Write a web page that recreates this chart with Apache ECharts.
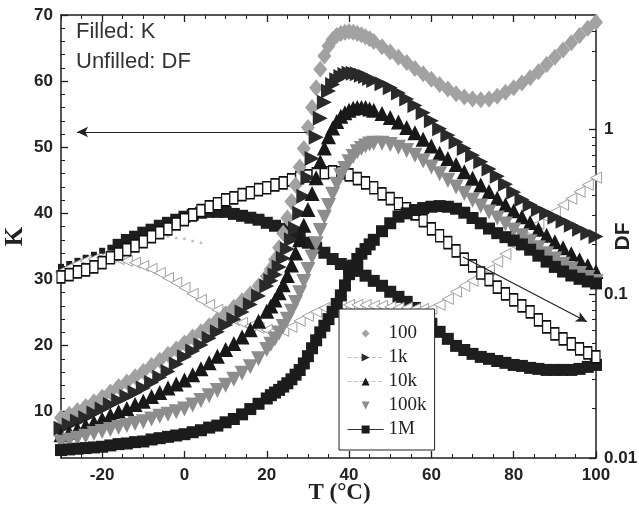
<!DOCTYPE html>
<html><head><meta charset="utf-8">
<script src="https://cdn.jsdelivr.net/npm/echarts@6/dist/echarts.min.js"></script>
<style>html,body{margin:0;padding:0;background:#fff}#c{width:639px;height:514px}</style>
</head><body><div id="c"></div>
<script>
// ---------- data ----------
const tempsK = [-30,-28,-26,-24,-22,-20,-18,-16,-14,-12,-10,-8,-6,-4,-2,0,2,4,6,8,10,12,14,16,18,20,
  21,22,23,24,25,26,27,28,29,30,31,32,33,34,35,36,37,38,39,40,41,42,43,44,45,46,
  48,50,52,54,56,58,60,62,64,66,68,70,72,74,76,78,80,82,84,86,88,90,92,94,96,98,100];
const k100 = [9.1,9.6,10.2,10.8,11.5,12.2,13.0,13.8,14.5,15.3,16.1,17.0,17.8,18.7,19.5,20.4,21.3,22.1,23.0,23.9,24.8,25.8,26.8,27.8,29.0,30.5,
  31.6,33.0,34.8,37.0,39.3,41.8,44.3,47.0,49.8,53.0,56.0,59.0,61.8,63.8,65.3,66.3,66.9,67.2,67.4,67.5,67.4,67.2,67.0,66.7,66.4,66.0,
  65.2,64.4,63.6,62.8,61.9,61.1,60.3,59.5,58.8,58.1,57.6,57.3,57.2,57.3,57.7,58.3,59.0,59.7,60.5,61.4,62.5,63.6,64.7,65.8,66.9,68.0,68.9];
const k1k = [7.5,8.0,8.6,9.1,9.8,10.4,11.1,11.7,12.3,12.9,13.6,14.4,15.2,16.1,17.2,18.3,19.2,20.1,21.1,22.1,23.1,24.0,25.1,26.2,27.5,29.0,
  29.8,30.7,31.9,33.2,34.6,36.0,37.7,40.0,42.6,45.4,48.3,51.5,54.4,56.8,58.5,59.5,60.2,60.7,61.0,61.2,61.2,61.1,60.9,60.7,60.4,60.1,
  59.6,59.0,58.2,57.3,56.3,55.2,54.0,52.8,51.8,50.8,49.8,48.8,47.8,46.7,45.6,44.4,43.2,42.1,41.3,40.6,40.0,39.4,38.8,38.2,37.6,37.0,36.5];
const k10k = [6.5,6.9,7.4,7.9,8.4,8.9,9.5,10.0,10.5,11.1,11.6,12.3,12.9,13.6,14.2,14.8,15.6,16.5,17.4,18.4,19.4,20.3,21.3,22.4,23.7,25.2,
  26.0,26.9,28.0,29.2,30.6,32.2,34.0,36.0,38.2,40.6,43.0,45.4,47.8,49.9,51.6,52.9,53.9,54.7,55.2,55.6,55.9,56.0,56.0,56.0,55.8,55.6,
  55.1,54.5,53.8,53.0,52.2,51.2,50.2,49.1,48.3,47.4,46.3,45.3,44.3,43.3,42.3,41.3,40.4,39.5,38.6,37.6,36.7,35.7,34.8,33.9,33.0,32.1,31.2];
const k100k = [5.4,5.7,6.0,6.3,6.7,7.0,7.3,7.6,7.9,8.2,8.5,8.9,9.3,9.6,10.0,10.4,11.0,11.7,12.4,13.2,14.0,14.9,15.8,16.8,18.0,19.4,
  20.2,21.0,21.9,22.9,24.0,25.2,26.5,28.0,29.7,31.5,33.4,35.4,37.4,39.4,41.2,42.9,44.4,45.7,46.8,47.8,48.6,49.3,49.8,50.2,50.5,50.6,
  50.6,50.4,50.0,49.5,48.8,47.9,47.0,46.0,45.0,44.0,43.0,42.0,41.1,40.2,39.3,38.4,37.5,36.6,35.7,34.8,33.9,33.1,32.3,31.6,30.9,30.3,29.7];
const k1M = [4.2,4.3,4.4,4.5,4.6,4.7,4.9,5.1,5.2,5.4,5.5,5.8,6.0,6.2,6.4,6.6,6.9,7.2,7.6,7.9,8.4,8.9,9.6,10.4,11.2,12.0,
  12.5,12.9,13.3,13.8,14.3,14.9,15.6,16.3,17.3,18.4,19.6,20.8,22.0,23.0,24.0,25.1,26.3,27.6,29.1,30.8,32.1,33.1,33.9,34.6,35.3,36.0,
  37.3,38.5,39.5,40.0,40.5,40.8,41.0,41.1,41.0,40.7,40.1,39.3,38.5,37.7,37.0,36.4,35.9,35.3,34.5,33.6,32.7,31.9,31.2,30.6,30.1,29.7,29.4];

const tempsDF = [-30,-28,-26,-24,-22,-20,-18,-16,-14,-12,-10,-8,-6,-4,-2,0,2,4,6,8,10,12,14,16,18,20,
  22,24,26,28,30,32,34,36,38,40,42,44,46,48,50,52,54,56,58,60,62,64,66,68,70,72,74,76,78,80,82,84,86,88,90,92,94,96,98,100];
const df1M = [0.127,0.131,0.136,0.140,0.146,0.155,0.166,0.175,0.186,0.196,0.208,0.223,0.236,0.249,0.267,0.283,0.303,0.321,0.339,0.354,0.374,0.385,0.402,0.413,0.431,0.443,
  0.462,0.475,0.495,0.510,0.524,0.539,0.547,0.554,0.547,0.531,0.503,0.475,0.443,0.407,0.380,0.354,0.330,0.307,0.279,0.249,0.226,0.205,0.183,0.163,0.148,0.134,0.122,0.110,0.100,0.0919,0.0845,0.0777,0.0694,0.0629,0.0571,0.0532,0.0496,0.0462,0.0437,0.0413];
const df1k = [0.146,0.152,0.159,0.166,0.173,0.183,0.191,0.199,0.213,0.223,0.236,0.246,0.260,0.271,0.283,0.295,0.303,0.312,0.316,0.316,0.316,0.307,0.299,0.291,0.283,0.271,
  0.260,0.249,0.236,0.223,0.205,0.191,0.178,0.163,0.152,0.146,0.138,0.129,0.120,0.112,0.103,0.0959,0.0894,0.0821,0.0734,0.0657,0.0587,0.0532,0.0482,0.0455,0.0431,0.0413,0.0402,0.0390,0.0380,0.0369,0.0364,0.0354,0.0349,0.0344,0.0344,0.0344,0.0344,0.0349,0.0359,0.0369];
const df100 = [0.136,0.144,0.152,0.159,0.163,0.166,0.166,0.163,0.159,0.155,0.148,0.142,0.134,0.125,0.117,0.109,0.100,0.0919,0.0857,0.0799,0.0734,0.0694,0.0666,0.0638,0.0621,0.0603,
  0.0595,0.0595,0.0629,0.0685,0.0734,0.0777,0.0821,0.0845,0.0857,0.0857,0.0857,0.0857,0.0845,0.0845,0.0833,0.0821,0.0821,0.0810,0.0810,0.0810,0.0857,0.0932,0.103,0.112,0.120,0.129,0.140,0.157,0.175,0.199,0.223,0.242,0.267,0.291,0.316,0.349,0.380,0.419,0.462,0.510];
const tempsDFfaint = [-6,-4,-2,0,2,4];
const df10k = [0.225,0.223,0.219,0.217,0.210,0.205];

const freqNames = ['100','1k','10k','100k','1M'];
const xTickLabels = [-20,0,20,40,60,80,100];
const xMinorTicks = [-30,-25,-20,-15,-10,-5,0,5,10,15,20,25,30,35,40,45,50,55,60,65,70,75,80,85,90,95,100];
const kTickLabels = [10,20,30,40,50,60,70];
const kMinorTicks = [4,6,8,12,14,16,18,22,24,26,28,32,34,36,38,42,44,46,48,52,54,56,58,62,64,66,68];
const dfMinorTicks = [0.02,0.03,0.04,0.05,0.06,0.07,0.08,0.09,0.2,0.3,0.4,0.5,0.6,0.7,0.8,0.9,2,3,4];
const arrowToK = [[29.8,52.3],[-26.1,52.3]];
const arrowToDF = [[67.7,33.4],[97.8,23.6]];

function pairs(xs, ys){ return ys.map((y,i)=>[xs[i], y]); }

// ---------- chart ----------
const AX = '#1e1e1e';
const tickFont = {fontFamily:'Liberation Sans, Arial, sans-serif', fontWeight:'bold', fontSize:17, color:'#222'};
const noLine = {show:false};
const hiddenLine = {show:false, onZero:false};
const chart = echarts.init(document.getElementById('c'), null, {renderer:'canvas'});

function kSeries(name, data, symbol, size, color, rotate){
  return {name, type:'line', xAxisIndex:0, yAxisIndex:0, data:pairs(tempsK, data),
    symbol, symbolSize:size, symbolRotate:rotate||0, showSymbol:true, showAllSymbol:true,
    lineStyle:{width:0, opacity:0}, itemStyle:{color, opacity:1},
    emphasis:{disabled:true}, silent:true, animation:false};
}

const series = [
  kSeries('100', k100, 'diamond', [14,17], '#a2a2a2', 0),
  kSeries('1k', k1k, 'triangle', 15, '#2a2a2a', -90),
  kSeries('10k', k10k, 'triangle', 15, '#181818', 0),
  kSeries('100k', k100k, 'triangle', 15, '#8d8d8d', 180),
  kSeries('1M', k1M, 'rect', 12, '#1c1c1c', 0),
  {name:'DF 1k', type:'scatter', xAxisIndex:0, yAxisIndex:1, data:pairs(tempsDF, df1k),
    symbol:'rect', symbolSize:(v)=> v[0] < -16 ? 6 : 12, itemStyle:{color:'#1e1e1e', opacity:1}, silent:true, animation:false},
  {name:'DF 100', type:'scatter', xAxisIndex:0, yAxisIndex:1, data:pairs(tempsDF, df100),
    symbol:'triangle', symbolRotate:90, symbolSize:11, itemStyle:{color:'#fff', borderColor:'#a0a0a0', borderWidth:1, opacity:1}, silent:true, animation:false},
  {name:'DF 10k', type:'scatter', xAxisIndex:0, yAxisIndex:1, data:pairs(tempsDFfaint, df10k),
    symbol:'circle', symbolSize:3, itemStyle:{color:'#c4c4c4', opacity:1}, silent:true, animation:false},
  {name:'DF 1M', type:'scatter', xAxisIndex:0, yAxisIndex:1, data:pairs(tempsDF, df1M),
    symbol:'rect', symbolSize:[8,12], itemStyle:{color:'#fff', borderColor:'#111', borderWidth:1.4, opacity:1}, silent:true, animation:false},
  {name:'arrows', type:'line', xAxisIndex:0, yAxisIndex:0, data:[], silent:true, animation:false,
    markLine:{silent:true, animation:false, symbol:['none','arrow'], symbolSize:[8,11],
      lineStyle:{color:'#222', width:1.2, type:'solid'}, label:{show:false}, emphasis:{disabled:true},
      data:[
        [{coord:arrowToK[0]}, {coord:arrowToK[1]}],
        [{coord:arrowToDF[0]}, {coord:arrowToDF[1]}]
      ]}}
];

const option = {
  backgroundColor:'#fff',
  animation:false,
  grid:{left:61, right:43, top:15, bottom:56, containLabel:false, outerBoundsMode:'none'},
  xAxis:[
    {type:'value', min:-30, max:100, position:'bottom',
      axisLine:{show:true, onZero:false, lineStyle:{color:AX, width:1.5}},
      axisTick:{show:true, inside:true, length:7, customValues:xTickLabels, lineStyle:{color:AX, width:1.3}},
      axisLabel:Object.assign({customValues:xTickLabels, margin:9}, tickFont),
      splitLine:noLine,
      name:'T (°C)', nameLocation:'middle', nameGap:24, nameMoveOverlap:false,
      nameTextStyle:{fontFamily:'Liberation Serif, Times New Roman, serif', fontWeight:'bold', fontSize:23, color:'#222', padding:[0,0,0,22]}},
    {type:'value', min:-30, max:100, position:'bottom',
      axisLine:hiddenLine, axisTick:{show:true, inside:true, length:4, customValues:xMinorTicks, lineStyle:{color:AX, width:1}},
      axisLabel:{show:false}, splitLine:noLine},
    {type:'value', min:-30, max:100, position:'top',
      axisLine:{show:true, onZero:false, lineStyle:{color:AX, width:1.5}},
      axisTick:{show:true, inside:true, length:7, customValues:xTickLabels, lineStyle:{color:AX, width:1.3}},
      axisLabel:{show:false}, splitLine:noLine},
    {type:'value', min:-30, max:100, position:'top',
      axisLine:hiddenLine, axisTick:{show:true, inside:true, length:4, customValues:xMinorTicks, lineStyle:{color:AX, width:1}},
      axisLabel:{show:false}, splitLine:noLine}
  ],
  yAxis:[
    {type:'value', min:3, max:70, position:'left',
      axisLine:{show:true, onZero:false, lineStyle:{color:AX, width:1.5}},
      axisTick:{show:true, inside:true, length:7, customValues:kTickLabels, lineStyle:{color:AX, width:1.3}},
      axisLabel:Object.assign({customValues:kTickLabels, margin:8}, tickFont),
      splitLine:noLine,
      name:'K', nameLocation:'middle', nameGap:33, nameRotate:90, nameMoveOverlap:false,
      nameTextStyle:{fontFamily:'Liberation Serif, Times New Roman, serif', fontWeight:'bold', fontSize:25, color:'#222'}},
    {type:'log', logBase:10, min:0.01, max:5, position:'right',
      axisLine:{show:true, onZero:false, lineStyle:{color:AX, width:1.5}},
      axisTick:{show:true, inside:true, length:7, lineStyle:{color:AX, width:1.3}},
      axisLabel:Object.assign({margin:8, showMaxLabel:false}, tickFont),
      splitLine:noLine, minorTick:{show:false},
      name:'DF', nameLocation:'middle', nameGap:17, nameRotate:90, nameMoveOverlap:false,
      nameTextStyle:{fontFamily:'Liberation Sans, Arial, sans-serif', fontWeight:'bold', fontSize:21, color:'#222'}},
    {type:'value', min:3, max:70, position:'left',
      axisLine:hiddenLine, axisTick:{show:true, inside:true, length:4, customValues:kMinorTicks, lineStyle:{color:AX, width:1}},
      axisLabel:{show:false}, splitLine:noLine},
    {type:'log', logBase:10, min:0.01, max:5, position:'right',
      axisLine:hiddenLine, axisTick:{show:true, inside:true, length:4, customValues:dfMinorTicks, lineStyle:{color:AX, width:1}},
      axisLabel:{show:false}, splitLine:noLine}
  ],
  legend:{
    orient:'vertical', left:339, top:309, selectedMode:false,
    backgroundColor:'#fff', borderColor:'#222', borderWidth:1, borderRadius:0,
    padding:[15,8,11,8], itemGap:5, itemWidth:36, itemHeight:10,
    textStyle:{fontFamily:'Liberation Serif, Times New Roman, serif', fontSize:19, color:'#222'},
    data:[
      {name:freqNames[0], lineStyle:{opacity:0, width:0, color:'#fff', type:'solid'}},
      {name:freqNames[1], lineStyle:{opacity:1, width:1, color:'#c4c4c4', type:'dashed'}},
      {name:freqNames[2], lineStyle:{opacity:1, width:1, color:'#c4c4c4', type:'dashed'}},
      {name:freqNames[3], lineStyle:{opacity:0, width:0, color:'#fff', type:'solid'}},
      {name:freqNames[4], lineStyle:{opacity:1, width:1.2, color:'#333', type:'solid'}}
    ]
  },
  graphic:[
    {type:'text', left:76, top:21, z:10, style:{text:'Filled: K', font:'22px "Liberation Sans", Arial, sans-serif', fill:'#333'}},
    {type:'text', left:76, top:51, z:10, style:{text:'Unfilled: DF', font:'22px "Liberation Sans", Arial, sans-serif', fill:'#333'}}
  ],
  series
};
chart.setOption(option);
</script>
</body></html>
